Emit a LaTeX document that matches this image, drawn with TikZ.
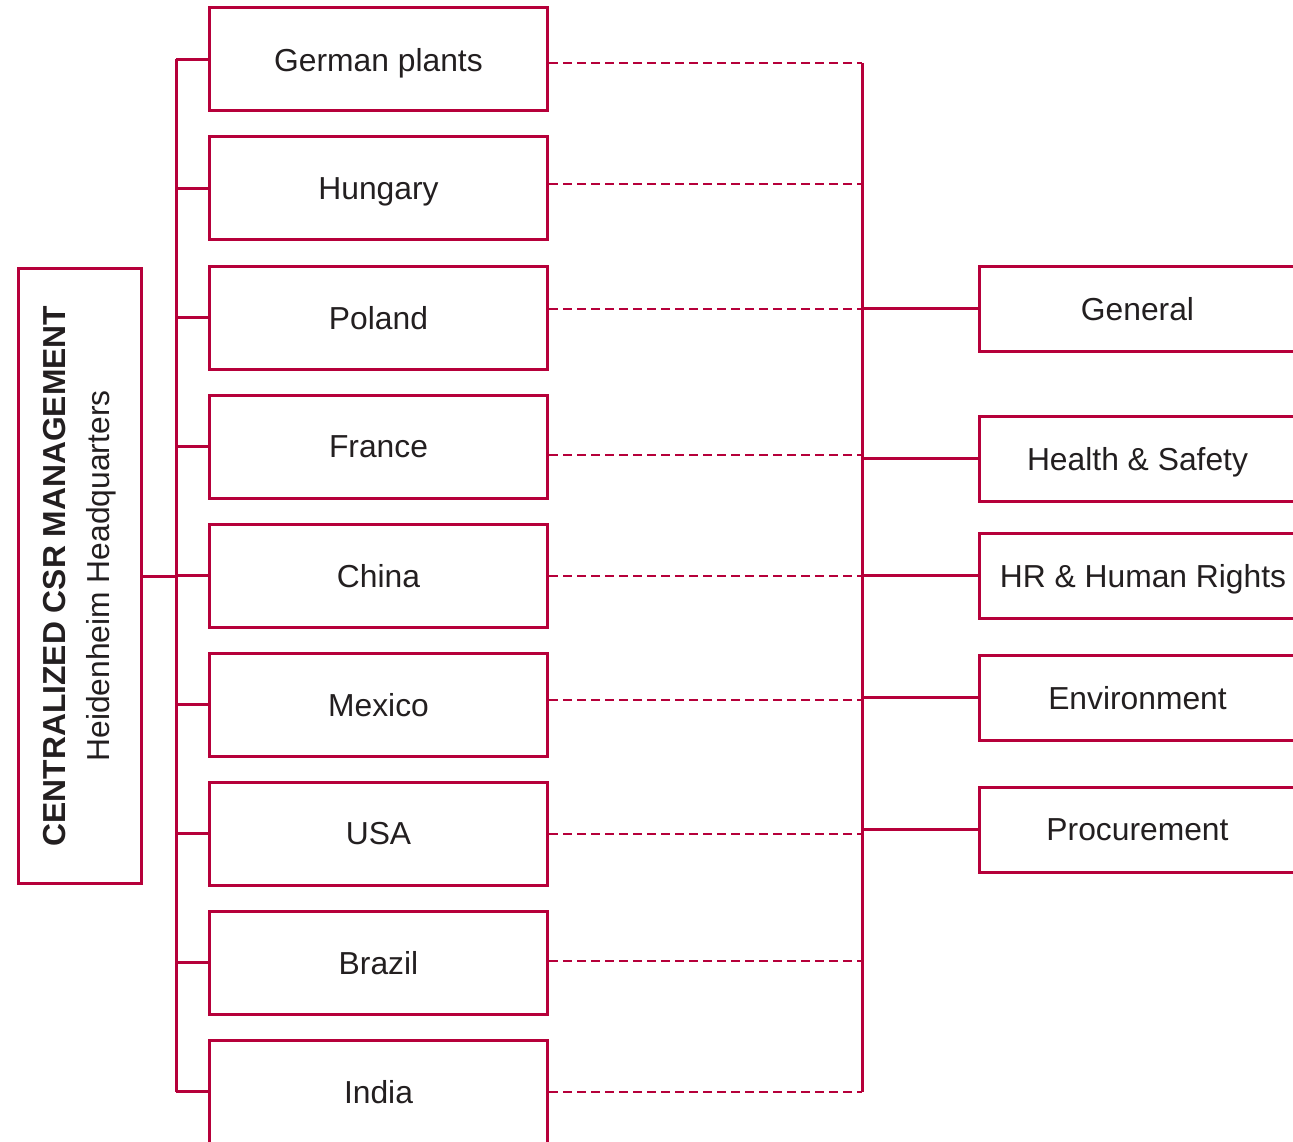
\documentclass[tikz,border=0pt]{standalone}
\usepackage{fontspec}
\setmainfont{Liberation Sans}
\definecolor{crim}{RGB}{182,0,58}
\definecolor{txt}{RGB}{35,31,32}
\begin{document}
\begin{tikzpicture}[x=1pt,y=-1pt,
  every node/.style={text=txt,font=\fontsize{31.8pt}{44pt}\selectfont},
  box/.style={draw=crim,line width=3pt,fill=white,inner sep=0pt},
  mid/.style={box,minimum width=338pt,minimum height=103pt,text depth=0pt},
  rbox/.style={box,minimum width=317pt,minimum height=85pt,text depth=0pt},
  conn/.style={draw=crim,line width=3pt},
  dashline/.style={draw=crim,line width=2pt,dash pattern=on 9pt off 5pt}]
\useasboundingbox (0,0) rectangle (1293,1142);
\clip (0,0) rectangle (1293,1142);
% headquarters
\node[box,rotate=90,minimum width=615pt,minimum height=123pt,align=center] (hq) at (80,576)
  {\textbf{CENTRALIZED CSR MANAGEMENT}\\Heidenheim Headquarters};
% middle boxes
\node[mid] (ger) at (378.5,59.5) {German plants};
\node[mid] (hun) at (378.5,188.5) {Hungary};
\node[mid] (pol) at (378.5,317.5) {Poland};
\node[mid] (fra) at (378.5,446.5) {France};
\node[mid] (chi) at (378.5,575.5) {China};
\node[mid] (mex) at (378.5,704.5) {Mexico};
\node[mid] (usa) at (378.5,833.5) {USA};
\node[mid] (bra) at (378.5,962.5) {Brazil};
\node[mid] (ind) at (378.5,1091.5) {India};
% right boxes
\node[rbox] (gen) at (1137.5,308.5) {General};
\node[rbox] (hs) at (1137.5,458.5) {Health \& Safety};
\node[rbox] (hr) at (1137.5,575.5) {\hspace*{11pt}HR \& Human Rights};
\node[rbox] (env) at (1137.5,697.5) {Environment};
\node[rbox] (pro) at (1137.5,829.5) {Procurement};
% left trunk
\coordinate (lt) at (176,59.5);
\coordinate (lb) at (176,1091.5);
\draw[conn] (lt) -- (lb);
\draw[conn] (hq.south) -- (hq.south -| lt);
\foreach \n in {ger,hun,pol,fra,chi,mex,usa,bra,ind}
  \draw[conn] (\n.west -| lt) -- (\n.west);
% right trunk
\coordinate (rt) at (862,63);
\coordinate (rb) at (862,1092);
\draw[conn] (rt) -- (rb);
\foreach \n/\y in {ger/63,hun/184,pol/309,fra/455,chi/576,mex/700,usa/834,bra/961,ind/1092}
  \draw[dashline] (\n.east |- 0,\y) -- (rt |- 0,\y);
\foreach \n in {gen,hs,hr,env,pro}
  \draw[conn] (\n.west -| rt) -- (\n.west);
\end{tikzpicture}
\end{document}
